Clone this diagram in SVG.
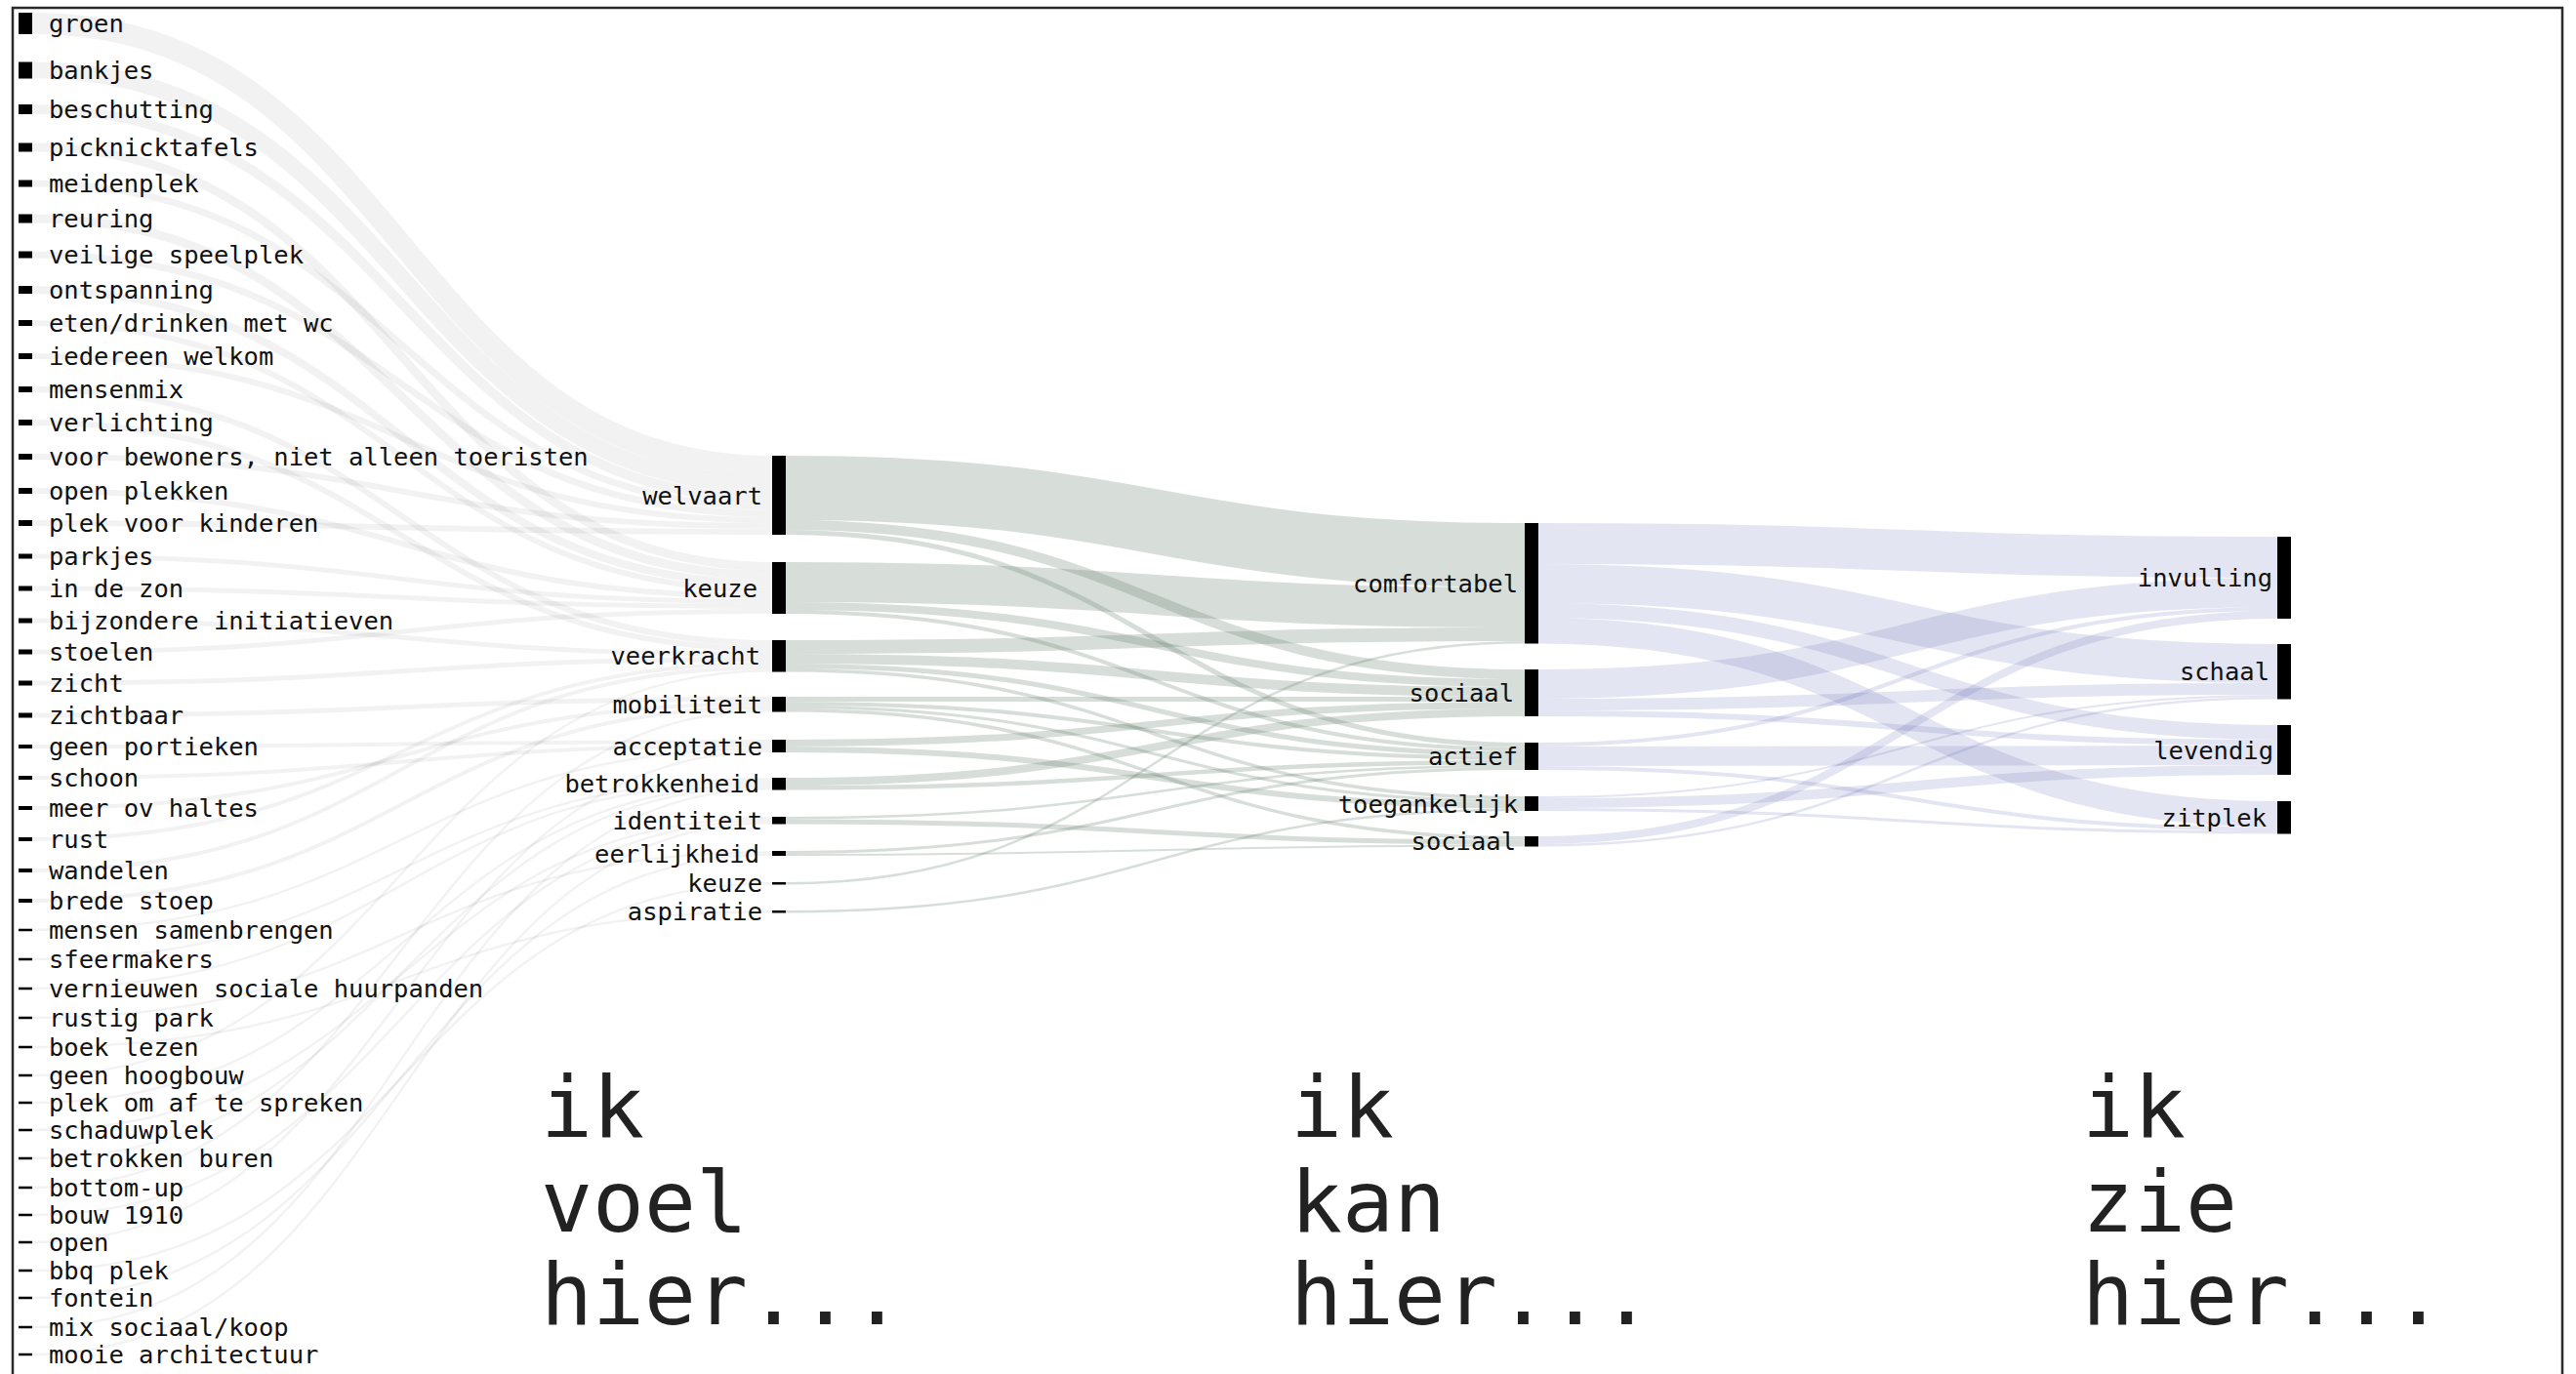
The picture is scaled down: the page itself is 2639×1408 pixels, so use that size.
<svg xmlns="http://www.w3.org/2000/svg" width="2639" height="1408" viewBox="0 0 2639 1408">
<style>
.n rect{fill:#000}
text{font-family:"DejaVu Sans Mono","Liberation Mono",monospace;font-size:25.5px;fill:#111}
.r{text-anchor:end}
.big{font-size:88px;fill:#222}
.l1 path{fill:none;stroke:#000;stroke-opacity:0.05}
.l2 path{fill:none;stroke:#5f7a66;stroke-opacity:0.25}
.l3 path{fill:none;stroke:#5a5fb0;stroke-opacity:0.16}
</style>
<rect x="0" y="0" width="2639" height="1408" fill="#fff"/>
<rect x="13" y="8" width="2612" height="1430" fill="none" stroke="#2a2a2a" stroke-width="2.5"/>
<g id="connectors">
<g class="l1">
<path d="M33,24C412,24 412,478 791,478" stroke-width="22"/>
<path d="M33,72C412,72 412,497.5 791,497.5" stroke-width="17"/>
<path d="M33,112C412,112 412,511 791,511" stroke-width="10"/>
<path d="M33,151C412,151 412,580.5 791,580.5" stroke-width="9"/>
<path d="M33,188C412,188 412,519.5 791,519.5" stroke-width="7"/>
<path d="M33,224C412,224 412,589.5 791,589.5" stroke-width="9"/>
<path d="M33,261C412,261 412,526.5 791,526.5" stroke-width="7"/>
<path d="M33,297C412,297 412,598 791,598" stroke-width="8"/>
<path d="M33,331C412,331 412,605 791,605" stroke-width="6"/>
<path d="M33,365C412,365 412,533 791,533" stroke-width="6"/>
<path d="M33,399C412,399 412,659 791,659" stroke-width="6"/>
<path d="M33,433C412,433 412,665 791,665" stroke-width="6"/>
<path d="M33,468C412,468 412,539 791,539" stroke-width="6"/>
<path d="M33,503C412,503 412,611 791,611" stroke-width="6"/>
<path d="M33,536C412,536 412,545 791,545" stroke-width="6"/>
<path d="M33,570C412,570 412,616.5 791,616.5" stroke-width="5"/>
<path d="M33,603C412,603 412,621.5 791,621.5" stroke-width="5"/>
<path d="M33,636C412,636 412,670.5 791,670.5" stroke-width="5"/>
<path d="M33,668C412,668 412,626.5 791,626.5" stroke-width="5"/>
<path d="M33,700C412,700 412,675.5 791,675.5" stroke-width="5"/>
<path d="M33,733C412,733 412,716.5 791,716.5" stroke-width="5"/>
<path d="M33,765C412,765 412,760 791,760" stroke-width="4"/>
<path d="M33,797C412,797 412,764 791,764" stroke-width="4"/>
<path d="M33,828C412,828 412,721 791,721" stroke-width="4"/>
<path d="M33,860C412,860 412,680 791,680" stroke-width="4"/>
<path d="M33,892C412,892 412,684 791,684" stroke-width="4"/>
<path d="M33,923C412,923 412,725 791,725" stroke-width="4"/>
<path d="M33,953C412,953 412,767.25 791,767.25" stroke-width="2.5"/>
<path d="M33,983C412,983 412,798.25 791,798.25" stroke-width="2.5"/>
<path d="M33,1013C412,1013 412,800.75 791,800.75" stroke-width="2.5"/>
<path d="M33,1043C412,1043 412,873.25 791,873.25" stroke-width="2.5"/>
<path d="M33,1073C412,1073 412,934.25 791,934.25" stroke-width="2.5"/>
<path d="M33,1102C412,1102 412,687.25 791,687.25" stroke-width="2.5"/>
<path d="M33,1130C412,1130 412,803.25 791,803.25" stroke-width="2.5"/>
<path d="M33,1158C412,1158 412,838.25 791,838.25" stroke-width="2.5"/>
<path d="M33,1187C412,1187 412,805.75 791,805.75" stroke-width="2.5"/>
<path d="M33,1217C412,1217 412,728.25 791,728.25" stroke-width="2.5"/>
<path d="M33,1245C412,1245 412,840.75 791,840.75" stroke-width="2.5"/>
<path d="M33,1273C412,1273 412,769.75 791,769.75" stroke-width="2.5"/>
<path d="M33,1302C412,1302 412,905.25 791,905.25" stroke-width="2.5"/>
<path d="M33,1330C412,1330 412,875.75 791,875.75" stroke-width="2.5"/>
<path d="M33,1360C412,1360 412,808.25 791,808.25" stroke-width="2.5"/>
<path d="M33,1388C412,1388 412,843.25 791,843.25" stroke-width="2.5"/>
</g>
<g class="l2">
<path d="M805,500C1183.5,500 1183.5,569 1562,569" stroke-width="66"/>
<path d="M805,538C1183.5,538 1183.5,691 1562,691" stroke-width="10"/>
<path d="M805,545.5C1183.5,545.5 1183.5,763.5 1562,763.5" stroke-width="5"/>
<path d="M805,596.5C1183.5,596.5 1183.5,622.5 1562,622.5" stroke-width="41"/>
<path d="M805,621C1183.5,621 1183.5,700 1562,700" stroke-width="8"/>
<path d="M805,627C1183.5,627 1183.5,768 1562,768" stroke-width="4"/>
<path d="M805,663C1183.5,663 1183.5,650 1562,650" stroke-width="14"/>
<path d="M805,675C1183.5,675 1183.5,709 1562,709" stroke-width="10"/>
<path d="M805,682.5C1183.5,682.5 1183.5,772.5 1562,772.5" stroke-width="5"/>
<path d="M805,686.75C1183.5,686.75 1183.5,817.75 1562,817.75" stroke-width="3.5"/>
<path d="M805,716.5C1183.5,716.5 1183.5,716.5 1562,716.5" stroke-width="5"/>
<path d="M805,721C1183.5,721 1183.5,777 1562,777" stroke-width="4"/>
<path d="M805,724.5C1183.5,724.5 1183.5,821 1562,821" stroke-width="3"/>
<path d="M805,727.75C1183.5,727.75 1183.5,858.75 1562,858.75" stroke-width="3.5"/>
<path d="M805,761.5C1183.5,761.5 1183.5,722.5 1562,722.5" stroke-width="7"/>
<path d="M805,768C1183.5,768 1183.5,825.5 1562,825.5" stroke-width="6"/>
<path d="M805,801C1183.5,801 1183.5,730 1562,730" stroke-width="8"/>
<path d="M805,807.25C1183.5,807.25 1183.5,781.25 1562,781.25" stroke-width="4.5"/>
<path d="M805,838.25C1183.5,838.25 1183.5,784.75 1562,784.75" stroke-width="2.5"/>
<path d="M805,842C1183.5,842 1183.5,863 1562,863" stroke-width="5"/>
<path d="M805,873.5C1183.5,873.5 1183.5,787.5 1562,787.5" stroke-width="3"/>
<path d="M805,876C1183.5,876 1183.5,866.5 1562,866.5" stroke-width="2"/>
<path d="M805,905.25C1183.5,905.25 1183.5,658.25 1562,658.25" stroke-width="2.5"/>
<path d="M805,934.25C1183.5,934.25 1183.5,829.75 1562,829.75" stroke-width="2.5"/>
</g>
<g class="l3">
<path d="M1576,557C1954.5,557 1954.5,571 2333,571" stroke-width="42"/>
<path d="M1576,598C1954.5,598 1954.5,680 2333,680" stroke-width="40"/>
<path d="M1576,625.5C1954.5,625.5 1954.5,750.5 2333,750.5" stroke-width="15"/>
<path d="M1576,646.25C1954.5,646.25 1954.5,834.25 2333,834.25" stroke-width="26.5"/>
<path d="M1576,701C1954.5,701 1954.5,607 2333,607" stroke-width="30"/>
<path d="M1576,722C1954.5,722 1954.5,706 2333,706" stroke-width="12"/>
<path d="M1576,731C1954.5,731 1954.5,761 2333,761" stroke-width="6"/>
<path d="M1576,763C1954.5,763 1954.5,624 2333,624" stroke-width="4"/>
<path d="M1576,775C1954.5,775 1954.5,774 2333,774" stroke-width="20"/>
<path d="M1576,787C1954.5,787 1954.5,849.5 2333,849.5" stroke-width="4"/>
<path d="M1576,817C1954.5,817 1954.5,713 2333,713" stroke-width="2"/>
<path d="M1576,823C1954.5,823 1954.5,789 2333,789" stroke-width="10"/>
<path d="M1576,829.5C1954.5,829.5 1954.5,853 2333,853" stroke-width="3"/>
<path d="M1576,861C1954.5,861 1954.5,630 2333,630" stroke-width="8"/>
<path d="M1576,866.25C1954.5,866.25 1954.5,715.25 2333,715.25" stroke-width="2.5"/>
</g>
</g>
<g id="col1" class="n">
<g id="n-groen"><rect x="19" y="13" width="14" height="22"/><text x="50" y="33">groen</text></g>
<g id="n-bankjes"><rect x="19" y="63.5" width="14" height="17"/><text x="50" y="81">bankjes</text></g>
<g id="n-beschutting"><rect x="19" y="107" width="14" height="10"/><text x="50" y="121">beschutting</text></g>
<g id="n-picknicktafels"><rect x="19" y="146.5" width="14" height="9"/><text x="50" y="160">picknicktafels</text></g>
<g id="n-meidenplek"><rect x="19" y="184.5" width="14" height="7"/><text x="50" y="197">meidenplek</text></g>
<g id="n-reuring"><rect x="19" y="219.5" width="14" height="9"/><text x="50" y="233">reuring</text></g>
<g id="n-veilige"><rect x="19" y="257.5" width="14" height="7"/><text x="50" y="270">veilige speelplek</text></g>
<g id="n-ontspanning"><rect x="19" y="293" width="14" height="8"/><text x="50" y="306">ontspanning</text></g>
<g id="n-eten"><rect x="19" y="328" width="14" height="6"/><text x="50" y="340">eten/drinken met wc</text></g>
<g id="n-iedereen"><rect x="19" y="362" width="14" height="6"/><text x="50" y="374">iedereen welkom</text></g>
<g id="n-mensenmix"><rect x="19" y="396" width="14" height="6"/><text x="50" y="408">mensenmix</text></g>
<g id="n-verlichting"><rect x="19" y="430" width="14" height="6"/><text x="50" y="442">verlichting</text></g>
<g id="n-bewoners"><rect x="19" y="465" width="14" height="6"/><text x="50" y="477">voor bewoners, niet alleen toeristen</text></g>
<g id="n-openplekken"><rect x="19" y="500" width="14" height="6"/><text x="50" y="512">open plekken</text></g>
<g id="n-kinderen"><rect x="19" y="533" width="14" height="6"/><text x="50" y="545">plek voor kinderen</text></g>
<g id="n-parkjes"><rect x="19" y="567.5" width="14" height="5"/><text x="50" y="579">parkjes</text></g>
<g id="n-zon"><rect x="19" y="600.5" width="14" height="5"/><text x="50" y="612">in de zon</text></g>
<g id="n-initiatieven"><rect x="19" y="633.5" width="14" height="5"/><text x="50" y="645">bijzondere initiatieven</text></g>
<g id="n-stoelen"><rect x="19" y="665.5" width="14" height="5"/><text x="50" y="677">stoelen</text></g>
<g id="n-zicht"><rect x="19" y="697.5" width="14" height="5"/><text x="50" y="709">zicht</text></g>
<g id="n-zichtbaar"><rect x="19" y="730.5" width="14" height="5"/><text x="50" y="742">zichtbaar</text></g>
<g id="n-portieken"><rect x="19" y="763" width="14" height="4"/><text x="50" y="774">geen portieken</text></g>
<g id="n-schoon"><rect x="19" y="795" width="14" height="4"/><text x="50" y="806">schoon</text></g>
<g id="n-ov"><rect x="19" y="826" width="14" height="4"/><text x="50" y="837">meer ov haltes</text></g>
<g id="n-rust"><rect x="19" y="858" width="14" height="4"/><text x="50" y="869">rust</text></g>
<g id="n-wandelen"><rect x="19" y="890" width="14" height="4"/><text x="50" y="901">wandelen</text></g>
<g id="n-stoep"><rect x="19" y="921" width="14" height="4"/><text x="50" y="932">brede stoep</text></g>
<g id="n-samenbrengen"><rect x="19" y="951.75" width="14" height="2.5"/><text x="50" y="962">mensen samenbrengen</text></g>
<g id="n-sfeermakers"><rect x="19" y="981.75" width="14" height="2.5"/><text x="50" y="992">sfeermakers</text></g>
<g id="n-huurpanden"><rect x="19" y="1011.75" width="14" height="2.5"/><text x="50" y="1022">vernieuwen sociale huurpanden</text></g>
<g id="n-rustigpark"><rect x="19" y="1041.75" width="14" height="2.5"/><text x="50" y="1052">rustig park</text></g>
<g id="n-boek"><rect x="19" y="1071.75" width="14" height="2.5"/><text x="50" y="1082">boek lezen</text></g>
<g id="n-hoogbouw"><rect x="19" y="1100.75" width="14" height="2.5"/><text x="50" y="1111">geen hoogbouw</text></g>
<g id="n-afspreken"><rect x="19" y="1128.75" width="14" height="2.5"/><text x="50" y="1139">plek om af te spreken</text></g>
<g id="n-schaduwplek"><rect x="19" y="1156.75" width="14" height="2.5"/><text x="50" y="1167">schaduwplek</text></g>
<g id="n-buren"><rect x="19" y="1185.75" width="14" height="2.5"/><text x="50" y="1196">betrokken buren</text></g>
<g id="n-bottomup"><rect x="19" y="1215.75" width="14" height="2.5"/><text x="50" y="1226">bottom-up</text></g>
<g id="n-bouw"><rect x="19" y="1243.75" width="14" height="2.5"/><text x="50" y="1254">bouw 1910</text></g>
<g id="n-open"><rect x="19" y="1271.75" width="14" height="2.5"/><text x="50" y="1282">open</text></g>
<g id="n-bbq"><rect x="19" y="1300.75" width="14" height="2.5"/><text x="50" y="1311">bbq plek</text></g>
<g id="n-fontein"><rect x="19" y="1328.75" width="14" height="2.5"/><text x="50" y="1339">fontein</text></g>
<g id="n-mix"><rect x="19" y="1358.75" width="14" height="2.5"/><text x="50" y="1369">mix sociaal/koop</text></g>
<g id="n-architectuur"><rect x="19" y="1386.75" width="14" height="2.5"/><text x="50" y="1397">mooie architectuur</text></g>
</g>
<g id="col2" class="n">
<g id="n-welvaart"><rect x="791" y="467" width="14" height="81"/><text class="r" x="781" y="516.5">welvaart</text></g>
<g id="n-keuze"><rect x="791" y="576" width="14" height="53"/><text class="r" x="776" y="611.5">keuze</text></g>
<g id="n-veerkracht"><rect x="791" y="656" width="14" height="32.5"/><text class="r" x="779" y="681">veerkracht</text></g>
<g id="n-mobiliteit"><rect x="791" y="714" width="14" height="15.5"/><text class="r" x="781" y="731">mobiliteit</text></g>
<g id="n-acceptatie"><rect x="791" y="758" width="14" height="13"/><text class="r" x="781" y="773.5">acceptatie</text></g>
<g id="n-betrokkenheid"><rect x="791" y="797" width="14" height="12.5"/><text class="r" x="778" y="812">betrokkenheid</text></g>
<g id="n-identiteit"><rect x="791" y="837" width="14" height="7.5"/><text class="r" x="781" y="850">identiteit</text></g>
<g id="n-eerlijkheid"><rect x="791" y="872" width="14" height="5"/><text class="r" x="778" y="883.5">eerlijkheid</text></g>
<g id="n-keuze2"><rect x="791" y="904" width="14" height="2.5"/><text class="r" x="781" y="914">keuze</text></g>
<g id="n-aspiratie"><rect x="791" y="933" width="14" height="2.5"/><text class="r" x="781" y="943">aspiratie</text></g>
</g>
<g id="col3" class="n">
<g id="n-comfortabel"><rect x="1562" y="536" width="14" height="123.5"/><text class="r" x="1555" y="607">comfortabel</text></g>
<g id="n-sociaal"><rect x="1562" y="686" width="14" height="48"/><text class="r" x="1551" y="719">sociaal</text></g>
<g id="n-actief"><rect x="1562" y="761" width="14" height="28"/><text class="r" x="1555" y="784">actief</text></g>
<g id="n-toegankelijk"><rect x="1562" y="816" width="14" height="15"/><text class="r" x="1555" y="832.5">toegankelijk</text></g>
<g id="n-sociaal2"><rect x="1562" y="857" width="14" height="10.5"/><text class="r" x="1553" y="871">sociaal</text></g>
</g>
<g id="col4" class="n">
<g id="n-invulling"><rect x="2333" y="550" width="14" height="84"/><text class="r" x="2328" y="601">invulling</text></g>
<g id="n-schaal"><rect x="2333" y="660" width="14" height="56.5"/><text class="r" x="2325" y="697">schaal</text></g>
<g id="n-levendig"><rect x="2333" y="743" width="14" height="51"/><text class="r" x="2329" y="777.5">levendig</text></g>
<g id="n-zitplek"><rect x="2333" y="821" width="14" height="33.5"/><text class="r" x="2322" y="847">zitplek</text></g>
</g>
<g id="titles">
<text class="big"><tspan x="554" y="1165">ik</tspan><tspan x="554" y="1262">voel</tspan><tspan x="554" y="1357">hier...</tspan></text>
<text class="big"><tspan x="1322" y="1165">ik</tspan><tspan x="1322" y="1262">kan</tspan><tspan x="1322" y="1357">hier...</tspan></text>
<text class="big"><tspan x="2133" y="1165">ik</tspan><tspan x="2133" y="1262">zie</tspan><tspan x="2133" y="1357">hier...</tspan></text>
</g>
</svg>
